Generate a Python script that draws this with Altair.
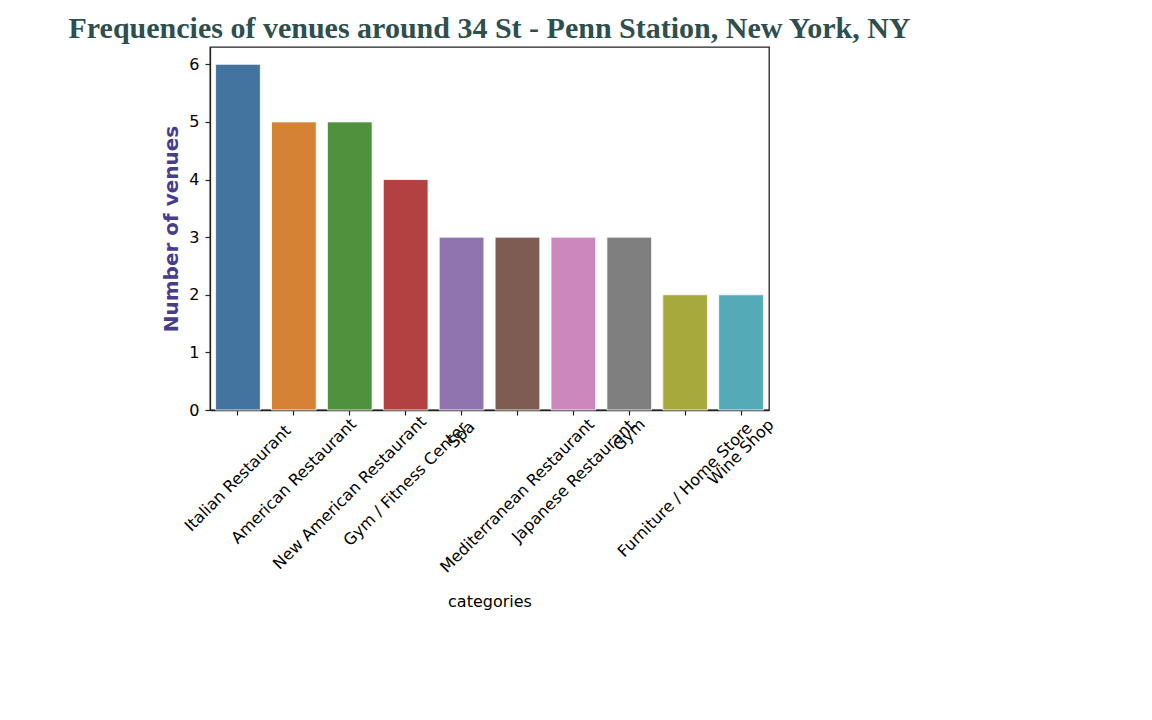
import altair as alt
import pandas as pd

categories = [
    "Italian Restaurant", "American Restaurant", "New American Restaurant",
    "Gym / Fitness Center", "Spa", "Mediterranean Restaurant",
    "Japanese Restaurant", "Gym", "Furniture / Home Store", "Wine Shop",
]
counts = [6, 5, 5, 4, 3, 3, 3, 3, 2, 2]
colors = ["#4374a0", "#d68234", "#4f913d", "#b44141", "#9074b0",
          "#7e5c52", "#cc87bd", "#7f7f7f", "#a8a93d", "#54aab7"]
y_ticks = [0, 1, 2, 3, 4, 5, 6]

df = pd.DataFrame({"categories": categories, "count": counts})

chart = alt.Chart(df).mark_bar(stroke="white", strokeWidth=0.8).encode(
    x=alt.X(
        "categories:N",
        sort=categories,
        scale=alt.Scale(paddingInner=0.2, paddingOuter=0.1),
        axis=alt.Axis(
            title="categories",
            labelAngle=-45,
            labelAlign="center",
            labelBaseline="middle",
            labelPadding=alt.ExprRef("4 + 0.3535 * (length(datum.label) * 8.2 + 19)"),
            labelFont="DejaVu Sans",
            labelFontSize=16,
            labelColor="black",
            labelOverlap=False,
            labelLimit=0,
            tickColor="#222222",
            tickSize=5,
            tickWidth=1.2,
            domainColor="#222222",
            domainWidth=1.3,
            titleFont="DejaVu Sans",
            titleFontSize=16,
            titleFontWeight="normal",
            titleColor="black",
            titlePadding=18,
        ),
    ),
    y=alt.Y(
        "count:Q",
        scale=alt.Scale(domain=[0, 6.3], nice=False),
        axis=alt.Axis(
            title="Number of venues",
            values=y_ticks,
            grid=False,
            labelFont="DejaVu Sans",
            labelFontSize=16,
            labelColor="black",
            labelPadding=6,
            tickColor="#222222",
            tickSize=5,
            tickWidth=1.2,
            domainColor="#222222",
            domainWidth=1.3,
            titleFont="DejaVu Sans",
            titleFontSize=20,
            titleFontWeight="bold",
            titleColor="#483D8B",
            titlePadding=7,
        ),
    ),
    color=alt.Color("categories:N", sort=categories,
                    scale=alt.Scale(domain=categories, range=colors), legend=None),
).properties(
    width=559,
    height=363,
    background="white",
    title=alt.TitleParams(
        "Frequencies of venues around 34 St - Penn Station, New York, NY",
        font="Liberation Serif",
        fontSize=30,
        fontWeight="bold",
        color="#2F4F4F",
        anchor="middle",
        baseline="alphabetic",
        offset=9,
        dy=30,
    ),
    autosize=alt.AutoSizeParams(type="none"),
    padding={"left": 210, "top": 47, "right": 383, "bottom": 310},
).configure_view(
    stroke="#222222", strokeWidth=1.3
)

chart.save("out.html", embed_options={"renderer": "svg", "actions": False})
